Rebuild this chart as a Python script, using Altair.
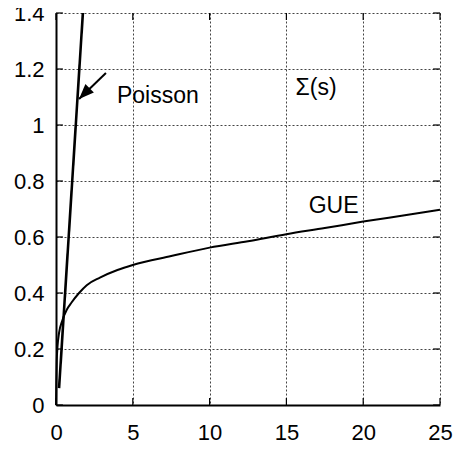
import altair as alt
import pandas as pd

# GUE curve
gue_s = [0, 0.02, 0.05, 0.1, 0.2, 0.4, 0.7, 1.0, 1.5, 2.0, 2.86, 4, 5, 7.5, 10, 12.5, 15, 17.5, 20, 22.5, 25]
gue_v = [0, 0.08, 0.16, 0.21, 0.258, 0.3, 0.34, 0.365, 0.4, 0.428, 0.455, 0.482, 0.5, 0.532, 0.562, 0.585, 0.61, 0.632, 0.655, 0.676, 0.697]

# Poisson line
poisson_s = [0.2, 1.75]
poisson_v = [0.06, 1.4]

x_ticks = [0, 5, 10, 15, 20, 25]
y_ticks = [0, 0.2, 0.4, 0.6, 0.8, 1.0, 1.2, 1.4]

labels = ["Poisson", "\u03a3(s)", "GUE"]
label_s = [3.97, 15.6, 16.45]
label_v = [1.079, 1.107, 0.685]

arrow_from = (3.25, 1.186)
arrow_to = (1.5, 1.093)

X_MAX, Y_MAX = 25, 1.4
XT_LEN = 0.025   # tick length in y units
YT_LEN = 0.45    # tick length in x units

FONT = "Liberation Sans"

xscale = alt.Scale(domain=[0, X_MAX], nice=False, zero=False)
yscale = alt.Scale(domain=[0, Y_MAX], nice=False, zero=False)

xaxis = alt.Axis(values=x_ticks, title=None, labelFontSize=22, labelFont=FONT,
                 labelColor="black", labelPadding=17, labelFlush=False,
                 labelOverlap=False, grid=True, gridDash=[2, 2], gridColor="#444",
                 gridWidth=1, domainColor="black", domainWidth=2, tickSize=0,
                 format="~g")
yaxis = alt.Axis(values=y_ticks, title=None, labelFontSize=22, labelFont=FONT,
                 labelColor="black", labelPadding=12, labelFlush=False,
                 labelOverlap=False, grid=True, gridDash=[2, 2], gridColor="#444",
                 gridWidth=1, domainColor="black", domainWidth=2, tickSize=0,
                 format="~g")

X = alt.X("s:Q", scale=xscale, axis=xaxis)
Y = alt.Y("v:Q", scale=yscale, axis=yaxis)

gue_df = pd.DataFrame({"s": gue_s, "v": gue_v})
poi_df = pd.DataFrame({"s": poisson_s, "v": poisson_v})

gue = alt.Chart(gue_df).mark_line(color="black", strokeWidth=2, interpolate="monotone").encode(x=X, y=Y)
poi = alt.Chart(poi_df).mark_line(color="black", strokeWidth=2.6).encode(x=X, y=Y)

# inward tick marks (bottom, top, left, right)
ticks_rows = []
for t in x_ticks:
    ticks_rows.append({"s": t, "s2": t, "v": 0, "v2": XT_LEN})
    ticks_rows.append({"s": t, "s2": t, "v": Y_MAX, "v2": Y_MAX - XT_LEN})
for t in y_ticks:
    ticks_rows.append({"s": 0, "s2": YT_LEN, "v": t, "v2": t})
    ticks_rows.append({"s": X_MAX, "s2": X_MAX - YT_LEN, "v": t, "v2": t})
ticks_df = pd.DataFrame(ticks_rows)
ticks = alt.Chart(ticks_df).mark_rule(color="black", strokeWidth=1.2).encode(
    x=X, x2="s2:Q", y=Y, y2="v2:Q")

txt_df = pd.DataFrame({"s": label_s, "v": label_v, "t": labels})
txt = alt.Chart(txt_df).mark_text(align="left", baseline="alphabetic", font=FONT,
                                  fontSize=23, color="black").encode(x=X, y=Y, text="t:N")

shaft_df = pd.DataFrame({"s": [arrow_from[0]], "v": [arrow_from[1]],
                         "s2": [arrow_to[0]], "v2": [arrow_to[1]]})
shaft = alt.Chart(shaft_df).mark_rule(color="black", strokeWidth=2).encode(
    x=X, x2="s2:Q", y=Y, y2="v2:Q")
head_df = pd.DataFrame({"s": [arrow_to[0]], "v": [arrow_to[1]]})
head = alt.Chart(head_df).mark_point(shape="M0,0L-0.6,1.5L0.6,1.5Z", size=400, angle=225,
                                     filled=True, color="black", opacity=1).encode(x=X, y=Y)

chart = alt.layer(gue, poi, ticks, shaft, head, txt).properties(
    width=384, height=392,
    autosize="none",
    padding={"left": 48, "top": 5, "right": 14, "bottom": 45},
).configure_view(stroke=None)

chart.save("out.html", embed_options={"renderer": "svg", "actions": False})
